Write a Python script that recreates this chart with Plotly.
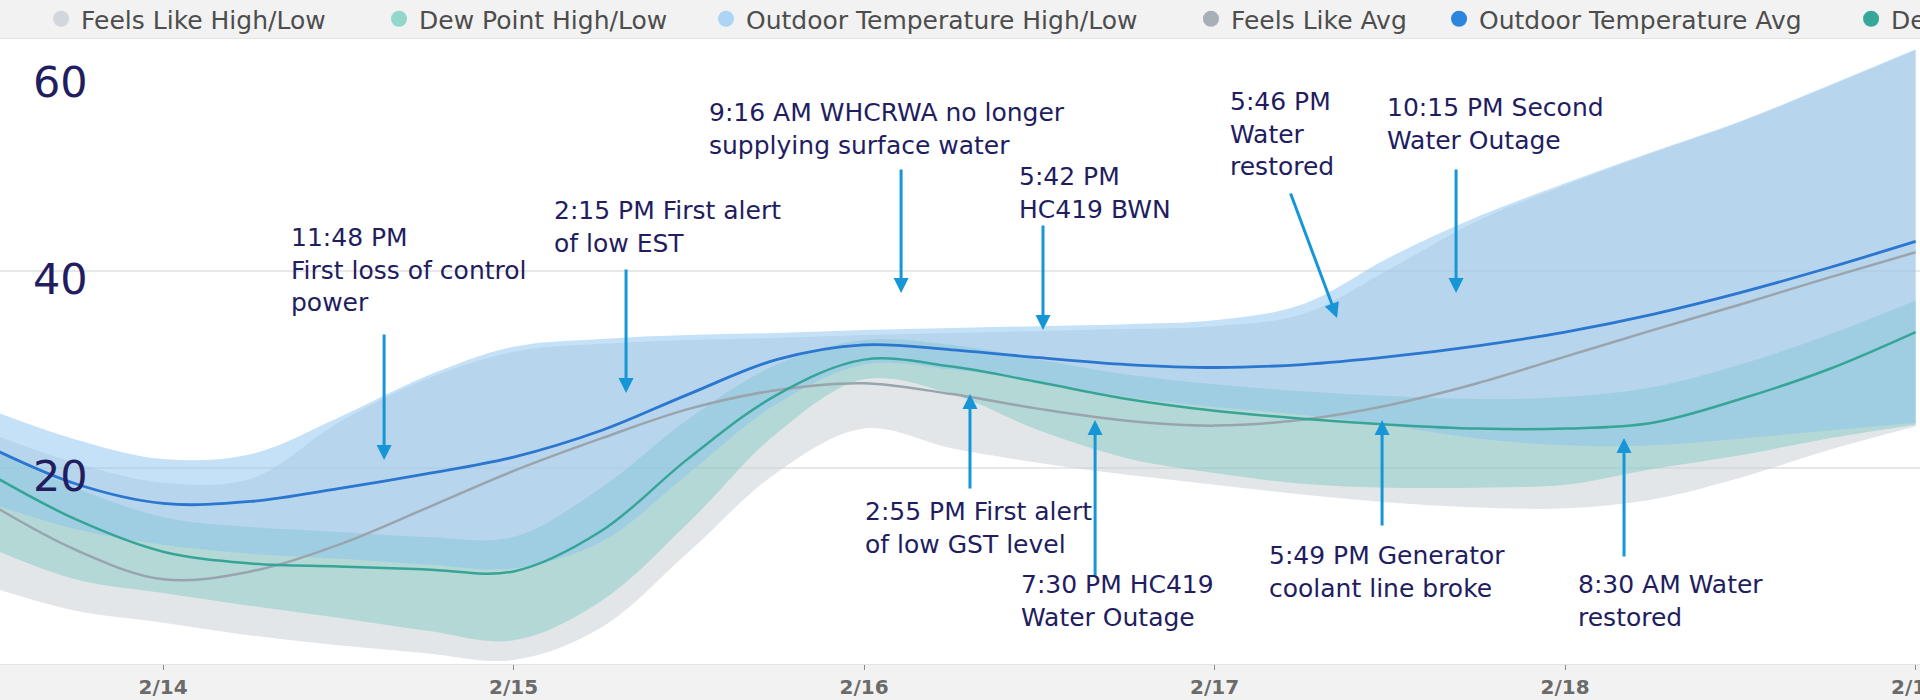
import plotly.graph_objects as go

# ---------------- data ----------------
times = [
    "2021-02-13 12:00", "2021-02-13 18:00",
    "2021-02-14 00:00", "2021-02-14 06:00", "2021-02-14 12:00", "2021-02-14 18:00",
    "2021-02-15 00:00", "2021-02-15 06:00", "2021-02-15 12:00", "2021-02-15 18:00",
    "2021-02-16 00:00", "2021-02-16 06:00", "2021-02-16 12:00", "2021-02-16 18:00",
    "2021-02-17 00:00", "2021-02-17 06:00", "2021-02-17 12:00", "2021-02-17 18:00",
    "2021-02-18 00:00", "2021-02-18 06:00", "2021-02-18 12:00", "2021-02-18 18:00",
    "2021-02-19 00:00",
]

feels_low = [8.0, 5.5, 4.3, 3.0, 2.0, 1.2, 0.5, 3.8, 11.5, 19.5, 24.0, 22.0,
             20.5, 19.3, 18.3, 17.3, 16.5, 16.0, 15.9, 16.8, 19.0, 21.8, 24.2]
feels_high = [23.6, 20.5, 18.5, 18.9, 24.6, 29.0, 31.8, 32.6, 33.0, 33.2, 33.5, 33.7,
              33.9, 34.1, 34.4, 35.6, 40.2, 45.1, 48.7, 52.0, 55.1, 58.7, 62.4]
dew_low = [12.0, 8.7, 7.3, 6.0, 4.8, 3.5, 2.5, 6.5, 14.5, 23.5, 29.0, 27.5,
           23.8, 21.0, 19.5, 18.4, 18.0, 18.0, 18.3, 19.9, 21.3, 23.0, 24.4]
dew_high = [22.0, 18.0, 15.0, 14.0, 13.5, 13.0, 13.0, 18.0, 25.0, 30.5, 33.0, 32.5,
            31.0, 29.5, 28.5, 27.8, 27.3, 27.0, 27.2, 28.2, 30.5, 33.5, 37.0]
temp_low = [16.5, 13.8, 12.2, 11.3, 10.8, 10.2, 9.8, 12.5, 19.5, 26.5, 30.5, 30.0,
            28.8, 27.2, 26.2, 25.4, 24.3, 23.0, 22.3, 22.3, 23.0, 23.8, 24.6]
temp_high = [26.0, 22.9, 20.9, 21.4, 25.1, 29.3, 32.3, 33.1, 33.5, 33.7, 34.0, 34.2,
             34.4, 34.6, 35.0, 36.6, 41.4, 45.5, 48.9, 52.1, 55.2, 58.8, 62.5]

feels_avg = [16.5, 11.7, 8.7, 9.5, 12.2, 15.9, 19.7, 23.0, 26.0, 27.9, 28.6, 27.5,
             26.0, 24.8, 24.3, 24.9, 26.4, 28.6, 31.3, 34.0, 36.6, 39.3, 41.9]
dew_avg = [19.5, 14.8, 11.5, 10.3, 10.0, 9.7, 9.5, 13.6, 21.0, 27.4, 31.0, 30.3,
           28.7, 27.0, 25.8, 25.0, 24.4, 24.0, 24.0, 24.6, 27.0, 30.0, 33.8]
temp_avg = [22.2, 18.4, 16.4, 16.6, 17.9, 19.4, 21.1, 23.8, 27.5, 31.0, 32.5, 32.0,
            31.2, 30.5, 30.2, 30.5, 31.3, 32.4, 33.8, 35.6, 37.8, 40.3, 43.0]

y_ticks = [20, 40, 60]
grid_values = [20, 40]

legend_names = ["Feels Like High/Low", "Dew Point High/Low", "Outdoor Temperature High/Low",
                "Feels Like Avg", "Outdoor Temperature Avg", "Dew Point Avg"]

# event annotations: arrow tip (time, value), text block (time, value)
arrow_tips = [
    ("2021-02-14 15:08", 20.81), ("2021-02-15 07:42", 27.61), ("2021-02-16 02:32", 37.77),
    ("2021-02-16 12:15", 34.01), ("2021-02-17 08:23", 35.23), ("2021-02-17 16:32", 37.77),
    ("2021-02-16 07:15", 27.51), ("2021-02-16 15:49", 24.87), ("2021-02-17 11:28", 24.87),
    ("2021-02-18 04:02", 23.05),
]
event_texts = [
    "11:48 PM<br>First loss of control<br>power",
    "2:15 PM First alert<br>of low EST",
    "9:16 AM WHCRWA no longer<br>supplying surface water",
    "5:42 PM<br>HC419 BWN",
    "5:46 PM<br>Water<br>restored",
    "10:15 PM Second<br>Water Outage",
    "2:55 PM First alert<br>of low GST level",
    "7:30 PM HC419<br>Water Outage",
    "5:49 PM Generator<br>coolant line broke",
    "8:30 AM Water<br>restored",
]
text_anchor = [
    ("2021-02-14 08:38", 45.08), ("2021-02-15 02:38", 47.82), ("2021-02-15 13:15", 57.77),
    ("2021-02-16 10:28", 51.27), ("2021-02-17 00:55", 58.88), ("2021-02-17 11:40", 58.27),
    ("2021-02-15 23:56", 17.26), ("2021-02-16 10:37", 9.85), ("2021-02-17 03:36", 12.79),
    ("2021-02-18 00:45", 9.85),
]

# ---------------- styles ----------------
NAVY = "#221d5f"
ARROW = "#1696d6"
arrow_offsets = [(0, -127), (0, -125), (0, -125), (0, -106), (-47, -126), (0, -125),
                 (0, 96), (0, 157), (0, 107), (0, 120)]
legend_colors = ["#d3d7dc", "#93d6cc", "#acd5f5", "#a7b0b8", "#2d86de", "#35a89a"]
legend_x = [0.0214, 0.1974, 0.3677, 0.6203, 0.7495, 0.9641]

fig = go.Figure()


def add_band(low, high, fill, group):
    fig.add_trace(go.Scatter(x=times, y=low, mode="lines", line=dict(width=0, shape="spline"),
                             showlegend=False, hoverinfo="skip", legendgroup=group))
    fig.add_trace(go.Scatter(x=times, y=high, mode="lines", line=dict(width=0, shape="spline"),
                             fill="tonexty", fillcolor=fill, showlegend=False,
                             hoverinfo="skip", legendgroup=group))


add_band(feels_low, feels_high, "rgba(200,205,211,0.5)", "g0")
add_band(dew_low, dew_high, "rgba(120,200,190,0.45)", "g1")
add_band(temp_low, temp_high, "rgba(140,195,240,0.5)", "g2")

fig.add_trace(go.Scatter(x=times, y=feels_avg, mode="lines", showlegend=False, legendgroup="g3",
                         line=dict(color="#9aa4ad", width=2.5, shape="spline")))
fig.add_trace(go.Scatter(x=times, y=dew_avg, mode="lines", showlegend=False, legendgroup="g5",
                         line=dict(color="#36a597", width=2.5, shape="spline")))
fig.add_trace(go.Scatter(x=times, y=temp_avg, mode="lines", showlegend=False, legendgroup="g4",
                         line=dict(color="#2b76cf", width=2.8, shape="spline")))

# legend entries (one legend box per entry so spacing matches)
groups = ["g0", "g1", "g2", "g3", "g4", "g5"]
legend_layouts = {}
for i, (name, color) in enumerate(zip(legend_names, legend_colors)):
    lid = "legend" if i == 0 else f"legend{i + 1}"
    fig.add_trace(go.Scatter(x=[None], y=[None], mode="markers", name=name, legend=lid,
                             legendgroup=groups[i],
                             marker=dict(size=16, color=color)))
    legend_layouts[lid] = dict(
        x=legend_x[i], xanchor="left", y=1.032, yanchor="middle",
        orientation="h", bgcolor="rgba(0,0,0,0)", borderwidth=0,
        font=dict(family="DejaVu Sans", size=25, color="#4d4d4d"),
    )

annotations = []
for (tx, ty), (ax, ay) in zip(arrow_tips, arrow_offsets):
    annotations.append(dict(x=tx, y=ty, xref="x", yref="y", text="", showarrow=True,
                            ax=ax, ay=ay, arrowhead=2, arrowsize=1, arrowwidth=3,
                            arrowcolor=ARROW))
for (tx, ty), txt in zip(text_anchor, event_texts):
    annotations.append(dict(x=tx, y=ty, xref="x", yref="y", text=txt, showarrow=False,
                            xanchor="left", yanchor="top", align="left",
                            font=dict(family="DejaVu Sans", size=25, color=NAVY)))

shapes = [dict(type="line", xref="paper", x0=0, x1=1, yref="y", y0=v, y1=v,
               line=dict(color="#e8e8e8", width=2), layer="below") for v in grid_values]

fig.update_layout(
    width=1920, height=700,
    margin=dict(l=0, r=0, t=39, b=36, autoexpand=False),
    paper_bgcolor="#f2f2f2",
    plot_bgcolor="#ffffff",
    showlegend=True,
    annotations=annotations,
    shapes=shapes,
    **legend_layouts,
)

fig.update_xaxes(
    type="date",
    range=["2021-02-13 12:50", "2021-02-19 00:18"],
    tick0="2021-02-14", dtick=86400000, tickformat="%-m/%-d",
    ticks="outside", ticklen=5, tickwidth=1, tickcolor="#8a8a8a",
    ticklabeloverflow="allow",
    tickfont=dict(family="DejaVu Sans", size=20, color="#6b6b6b", weight="bold"),
    showgrid=False, zeroline=False,
    showline=True, linecolor="#e4e4e4", linewidth=1, mirror=True,
)
fig.update_yaxes(
    range=[0.10, 63.55],
    tickvals=y_ticks,
    ticklabelposition="inside",
    ticklabelstandoff=30,
    ticklabelshift=8,
    tickfont=dict(family="DejaVu Sans", size=43, color=NAVY),
    showgrid=False,
    zeroline=False, showline=False, ticks="",
)

fig.write_html("out.html", config={"displayModeBar": False},
               post_script="document.body.style.margin='0';document.body.style.overflow='hidden';")
